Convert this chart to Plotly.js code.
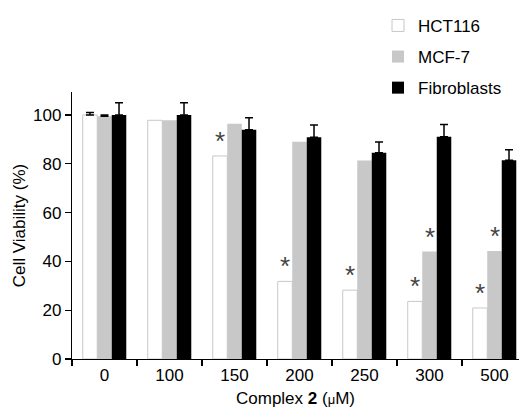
<!DOCTYPE html>
<html><head><meta charset="utf-8">
<script src="https://cdn.plot.ly/plotly-3.0.1.min.js"></script>
<style>html,body{margin:0;padding:0;background:#fff}#chart{width:519px;height:418px}</style>
</head><body><div id="chart"></div>
<script>
const categories = ['0','100','150','200','250','300','500'];
const hct116 = [100, 97.8, 83.2, 31.8, 28.2, 23.6, 20.9];
const hct116Err = [1, NaN, NaN, NaN, NaN, NaN, NaN];
const mcf7 = [99.5, 97.8, 96.4, 89.0, 81.3, 44.0, 44.3];
const mcf7Err = [0.5, NaN, NaN, NaN, NaN, NaN, NaN];
const fibro = [100, 100, 93.9, 90.9, 84.5, 91.1, 81.4];
const fibroErr = [5, 5, 5, 5, 4.4, 5, 4.3];
const hctStar = [false, false, true, true, true, true, true];
const mcfStar = [false, false, false, false, false, true, true];
const yTicks = [0, 20, 40, 60, 80, 100];

const font = 'Liberation Sans, Arial, sans-serif';
function errs(a){ return {type:'data', symmetric:false, array:a, arrayminus:a.map(v=>isNaN(v)?NaN:0), color:'#000', thickness:1.5, width:4}; }

const traces = [
  {type:'bar', name:'HCT116', x:categories, y:hct116, error_y:errs(hct116Err),
   marker:{color:'#ffffff', line:{color:'#c8c8c8', width:1}}, legendgroup:'a'},
  {type:'bar', name:'MCF-7', x:categories, y:mcf7, error_y:errs(mcf7Err),
   marker:{color:'#c8c8c8', line:{width:0}}, legendgroup:'b'},
  {type:'bar', name:'Fibroblasts', x:categories, y:fibro, error_y:errs(fibroErr),
   marker:{color:'#000000', line:{width:0}}, legendgroup:'c'}
];

const annotations = [];
categories.forEach((c,i)=>{
  if(hctStar[i]) annotations.push({x:i, y:hct116[i], xref:'x', yref:'y', text:'*', showarrow:false, xshift:-14.5, yshift:15, font:{family:font, size:26, color:'#444'}});
  if(mcfStar[i]) annotations.push({x:i, y:mcf7[i], xref:'x', yref:'y', text:'*', showarrow:false, xshift:0, yshift:15, font:{family:font, size:26, color:'#444'}});
});

const layout = {
  width:519, height:418,
  margin:{l:72, r:0, t:92, b:59},
  paper_bgcolor:'#fff', plot_bgcolor:'#fff',
  barmode:'group', bargap:0.33, bargroupgap:0,
  font:{family:font, size:17, color:'#000'},
  showlegend:true,
  legend:{x:0.6846, xref:'paper', y:1.315, yanchor:'top', font:{family:font, size:17}, tracegroupgap:6, bgcolor:'rgba(0,0,0,0)'},
  xaxis:{type:'category', range:[-0.5, 6.377], showline:true, linecolor:'#000', linewidth:1.2,
    ticks:'outside', tickson:'boundaries', ticklen:6, tickcolor:'#000', tickwidth:1.2,
    showgrid:false, zeroline:false, tickfont:{size:17},
    title:{text:'Complex <b>2</b> (<span style="font-size:13px">μ</span>M)', font:{size:17}, standoff:8}},
  yaxis:{range:[0,109.4], tickvals:yTicks, showline:true, linecolor:'#000', linewidth:1.2,
    ticks:'outside', ticklen:6, tickcolor:'#000', tickwidth:1.2, showgrid:false, zeroline:false,
    tickfont:{size:17}, title:{text:'Cell Viability (%)', font:{size:17}, standoff:3}},
  annotations:annotations
};
Plotly.newPlot('chart', traces, layout, {displayModeBar:false, staticPlot:true});
</script></body></html>
